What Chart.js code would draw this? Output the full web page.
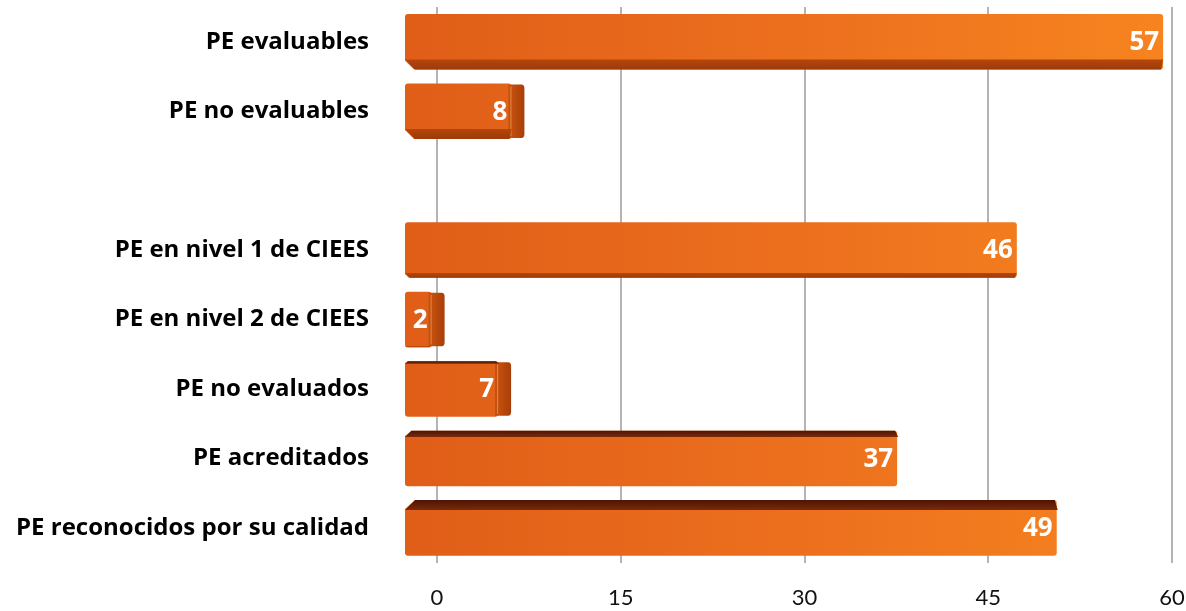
<!DOCTYPE html>
<html>
<head>
<meta charset="utf-8">
<script src="https://cdn.jsdelivr.net/npm/chart.js@4.4.1/dist/chart.umd.min.js"></script>
<style>
  html, body { margin: 0; padding: 0; background: #ffffff; }
  #wrap { width: 1186px; height: 611px; position: relative; }
</style>
</head>
<body>
<div id="wrap"><canvas id="peChart"></canvas></div>
<script>
// Chart data
const categories = [
  "PE evaluables",
  "PE no evaluables",
  "",
  "PE en nivel 1 de CIEES",
  "PE en nivel 2 de CIEES",
  "PE no evaluados",
  "PE acreditados",
  "PE reconocidos por su calidad",
];
const values = [57, 8, null, 46, 2, 7, 37, 49];
const tickValues = [0, 15, 30, 45, 60];

// Fake 3D faces + white value labels, painted over the bar elements
const bar3d = {
  id: "bar3d",
  afterDatasetsDraw(chart) {
    const ctx = chart.ctx;
    const meta = chart.getDatasetMeta(0);
    const eyeY = 340; // bars below this show their top face, above show bottom face
    const eyeX = 700; // bars ending left of this show their right side face
    ctx.save();
    meta.data.forEach((bar, i) => {
      if (values[i] === null) return;
      const h = bar.height;
      const left = bar.base;
      const right = bar.x;
      const top = bar.y - h / 2;
      const bottom = bar.y + h / 2;

      let depth = ((bar.y - eyeY) / 190) * 10;
      depth = Math.max(-10, Math.min(10, depth));

      // right side face for short bars (sits past the end of the front)
      if (right < eyeX) {
        const sw = 13;
        const sg = ctx.createLinearGradient(right, 0, right + sw, 0);
        sg.addColorStop(0, "#c4500e");
        sg.addColorStop(1, "#a83e08");
        ctx.fillStyle = sg;
        ctx.beginPath();
        ctx.moveTo(right - 3, top + 1);
        ctx.lineTo(right + sw - 3, top + 1);
        ctx.quadraticCurveTo(right + sw, top + 1, right + sw, top + 5);
        ctx.lineTo(right + sw, bottom - 5);
        ctx.quadraticCurveTo(right + sw, bottom - 1, right + sw - 3, bottom - 1);
        ctx.lineTo(right - 3, bottom - 1);
        ctx.closePath();
        ctx.fill();
        ctx.fillStyle = "rgba(255, 200, 120, 0.5)";
        ctx.fillRect(right - 1, top + 3, 1, h - 6);
      }

      if (depth > 0.5) {
        // top face (dark brown)
        const g = ctx.createLinearGradient(0, top, 0, top + depth);
        g.addColorStop(0, "#4e1404");
        g.addColorStop(1, "#7a2a0a");
        ctx.fillStyle = g;
        ctx.beginPath();
        ctx.moveTo(left + depth, top);
        ctx.lineTo(right - 2, top);
        ctx.lineTo(right + 1, top + depth);
        ctx.lineTo(left, top + depth);
        ctx.closePath();
        ctx.fill();
        // white cut-off above the slanted corner
        ctx.fillStyle = "#ffffff";
        ctx.beginPath();
        ctx.moveTo(left - 1, top - 1);
        ctx.lineTo(left + depth, top - 1);
        ctx.lineTo(left + depth, top);
        ctx.lineTo(left - 1, top + depth);
        ctx.closePath();
        ctx.fill();
      } else if (depth < -0.5) {
        // bottom face (darker orange)
        const d = -depth;
        const g = ctx.createLinearGradient(0, bottom - d, 0, bottom);
        g.addColorStop(0, "#b5460c");
        g.addColorStop(1, "#9c3a08");
        ctx.fillStyle = g;
        ctx.beginPath();
        ctx.moveTo(left, bottom - d);
        ctx.lineTo(right, bottom - d);
        ctx.lineTo(right - 2, bottom);
        ctx.lineTo(left + d, bottom);
        ctx.closePath();
        ctx.fill();
        ctx.fillStyle = "#ffffff";
        ctx.beginPath();
        ctx.moveTo(left - 1, bottom - d);
        ctx.lineTo(left + d, bottom + 1);
        ctx.lineTo(left - 1, bottom + 1);
        ctx.closePath();
        ctx.fill();
      }

      // value text
      ctx.fillStyle = "#ffffff";
      ctx.font = "bold 26px 'Open Sans'";
      ctx.textAlign = "right";
      ctx.textBaseline = "middle";
      ctx.fillText(String(values[i]), right - 4, bar.y + 1);
    });
    ctx.restore();
  },
};

document.addEventListener("DOMContentLoaded", function () {
  const ctx = document.getElementById("peChart").getContext("2d");

  // horizontal orange gradient for the bar fronts
  const barFill = ctx.createLinearGradient(405, 0, 1186, 0);
  barFill.addColorStop(0, "#e05e18");
  barFill.addColorStop(0.5, "#ec6f1e");
  barFill.addColorStop(1, "#f7851f");

  new Chart(ctx, {
    type: "bar",
    data: {
      labels: categories,
      datasets: [
        {
          data: values,
          backgroundColor: barFill,
          borderWidth: 0,
          borderRadius: 3,
          borderSkipped: false,
          categoryPercentage: 1,
          barPercentage: 0.8,
          xAxisID: "x",
        },
      ],
    },
    options: {
      indexAxis: "y",
      responsive: true,
      maintainAspectRatio: false,
      animation: false,
      layout: {
        padding: { top: 7, right: 0, bottom: 0, left: 0 },
      },
      plugins: {
        legend: { display: false },
        tooltip: { enabled: false },
      },
      scales: {
        // scale used by the bars (front of the 3D bars)
        x: {
          type: "linear",
          display: false,
          min: 0,
          max: 58.72,
        },
        // scale for the grid lines and tick labels (back wall)
        xg: {
          type: "linear",
          position: "bottom",
          min: -2.612,
          max: 61.14,
          afterBuildTicks: function (scale) {
            scale.ticks = tickValues.map((v) => ({ value: v }));
          },
          grid: {
            color: "#b4b4b4",
            lineWidth: 2,
            drawTicks: true,
            tickLength: 22,
            tickColor: "rgba(0,0,0,0)",
          },
          border: { display: false },
          ticks: {
            padding: 0,
            color: "#111111",
            font: { family: "Lato", size: 22 },
            maxRotation: 0,
          },
        },
        y: {
          grid: { display: false, drawTicks: true, tickLength: 36 },
          border: { display: false },
          afterFit: function (scale) {
            scale.width = 405;
          },
          ticks: {
            padding: 0,
            color: "#000000",
            font: { family: "Open Sans", size: 24, weight: "bold", lineHeight: 0.5 },
            autoSkip: false,
          },
        },
      },
    },
    plugins: [bar3d],
  });
});
</script>
</body>
</html>
